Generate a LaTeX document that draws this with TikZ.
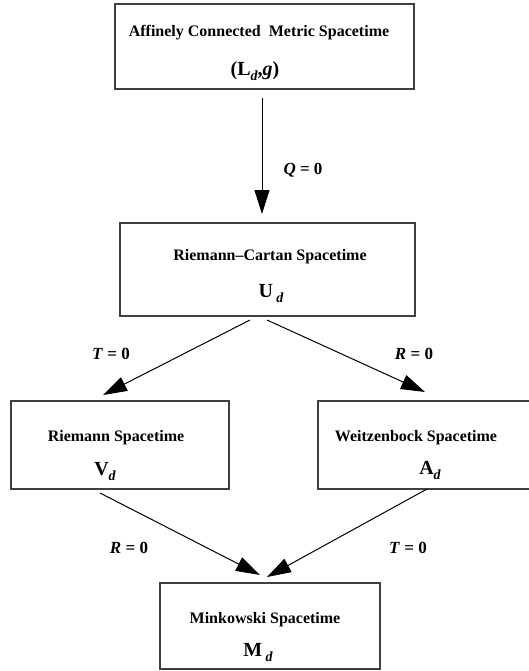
\documentclass[tikz,border=0pt]{standalone}
\usepackage{fontspec}
\setmainfont{Liberation Serif}
\usetikzlibrary{arrows.meta}

% bold symbol with a lowered bold-italic index
\newcommand{\symsub}[2]{\textbf{#1}\raisebox{-5pt}{\fontsize{14}{14}\selectfont\bfseries\itshape #2}}

\begin{document}
\begin{tikzpicture}[x=1pt,y=-1pt,
  spacebox/.style={draw=black!75,line width=1.2pt,rectangle,inner sep=0pt},
  title/.style={font=\fontsize{16}{19}\selectfont\bfseries,inner sep=0pt,anchor=base},
  symb/.style={font=\fontsize{20}{24}\selectfont\bfseries,inner sep=0pt,anchor=base},
  cond/.style={font=\fontsize{17}{20}\selectfont\bfseries,inner sep=0pt,anchor=base},
  reduce/.style={draw=black,line width=1pt,-{Triangle[length=24pt,width=15pt]}}
]
\useasboundingbox (0,0) rectangle (528,671);

% spacetime boxes
\node[spacebox,minimum width=299pt,minimum height=85pt] (acm) at (264.5,46.5) {};
\node[spacebox,minimum width=295pt,minimum height=93pt] (rc) at (267.5,269.5) {};
\node[spacebox,minimum width=218pt,minimum height=88pt] (riem) at (120,445) {};
\node[spacebox,minimum width=214pt,minimum height=88pt] (weitz) at (425,445) {};
\node[spacebox,minimum width=220pt,minimum height=86pt] (mink) at (270,626) {};

% box contents
\node[title] (acm-t) at (259,37) {Affinely Connected\ \ Metric Spacetime};
\node[symb] (acm-s) at (255,76) {(\symsub{L}{d},\textbf{\textit{g}})};
\node[title] (rc-t) at (270,260) {Riemann--Cartan Spacetime};
\node[symb] (rc-s) at (271,297) {\symsub{U\,}{d}};
\node[title] (riem-t) at (116,441) {Riemann Spacetime};
\node[symb] (riem-s) at (105,475) {\symsub{V}{d}};
\node[title] (weitz-t) at (416,441) {Weitzenbock Spacetime};
\node[symb] (weitz-s) at (430,474) {\symsub{A}{d}};
\node[title] (mink-t) at (265,623) {Minkowski Spacetime};
\node[symb] (mink-s) at (258,656) {\symsub{M\,}{d}};

% connector end points
\coordinate (acm-out) at (262,98);
\coordinate (rc-in) at (262,214);
\coordinate (rc-outl) at (250,320);
\coordinate (rc-outr) at (267,320);
\coordinate (riem-in) at (103,395);
\coordinate (weitz-in) at (425,392);
\coordinate (riem-out) at (100,493);
\coordinate (weitz-out) at (427,489);
\coordinate (mink-inl) at (260,575);
\coordinate (mink-inr) at (267,577);

% reductions
\draw[reduce] (acm-out) -- (rc-in);
\draw[reduce] (rc-outl) -- (riem-in);
\draw[reduce] (rc-outr) -- (weitz-in);
\draw[reduce] (riem-out) -- (mink-inl);
\draw[reduce] (weitz-out) -- (mink-inr);

% conditions
\node[cond] (q0) at (303,175) {\textit{Q} = 0};
\node[cond] (t0a) at (111,359) {\textit{T} = 0};
\node[cond] (r0a) at (414,359) {\textit{R} = 0};
\node[cond] (r0b) at (129,553) {\textit{R} = 0};
\node[cond] (t0b) at (408,553) {\textit{T} = 0};
\end{tikzpicture}
\end{document}
